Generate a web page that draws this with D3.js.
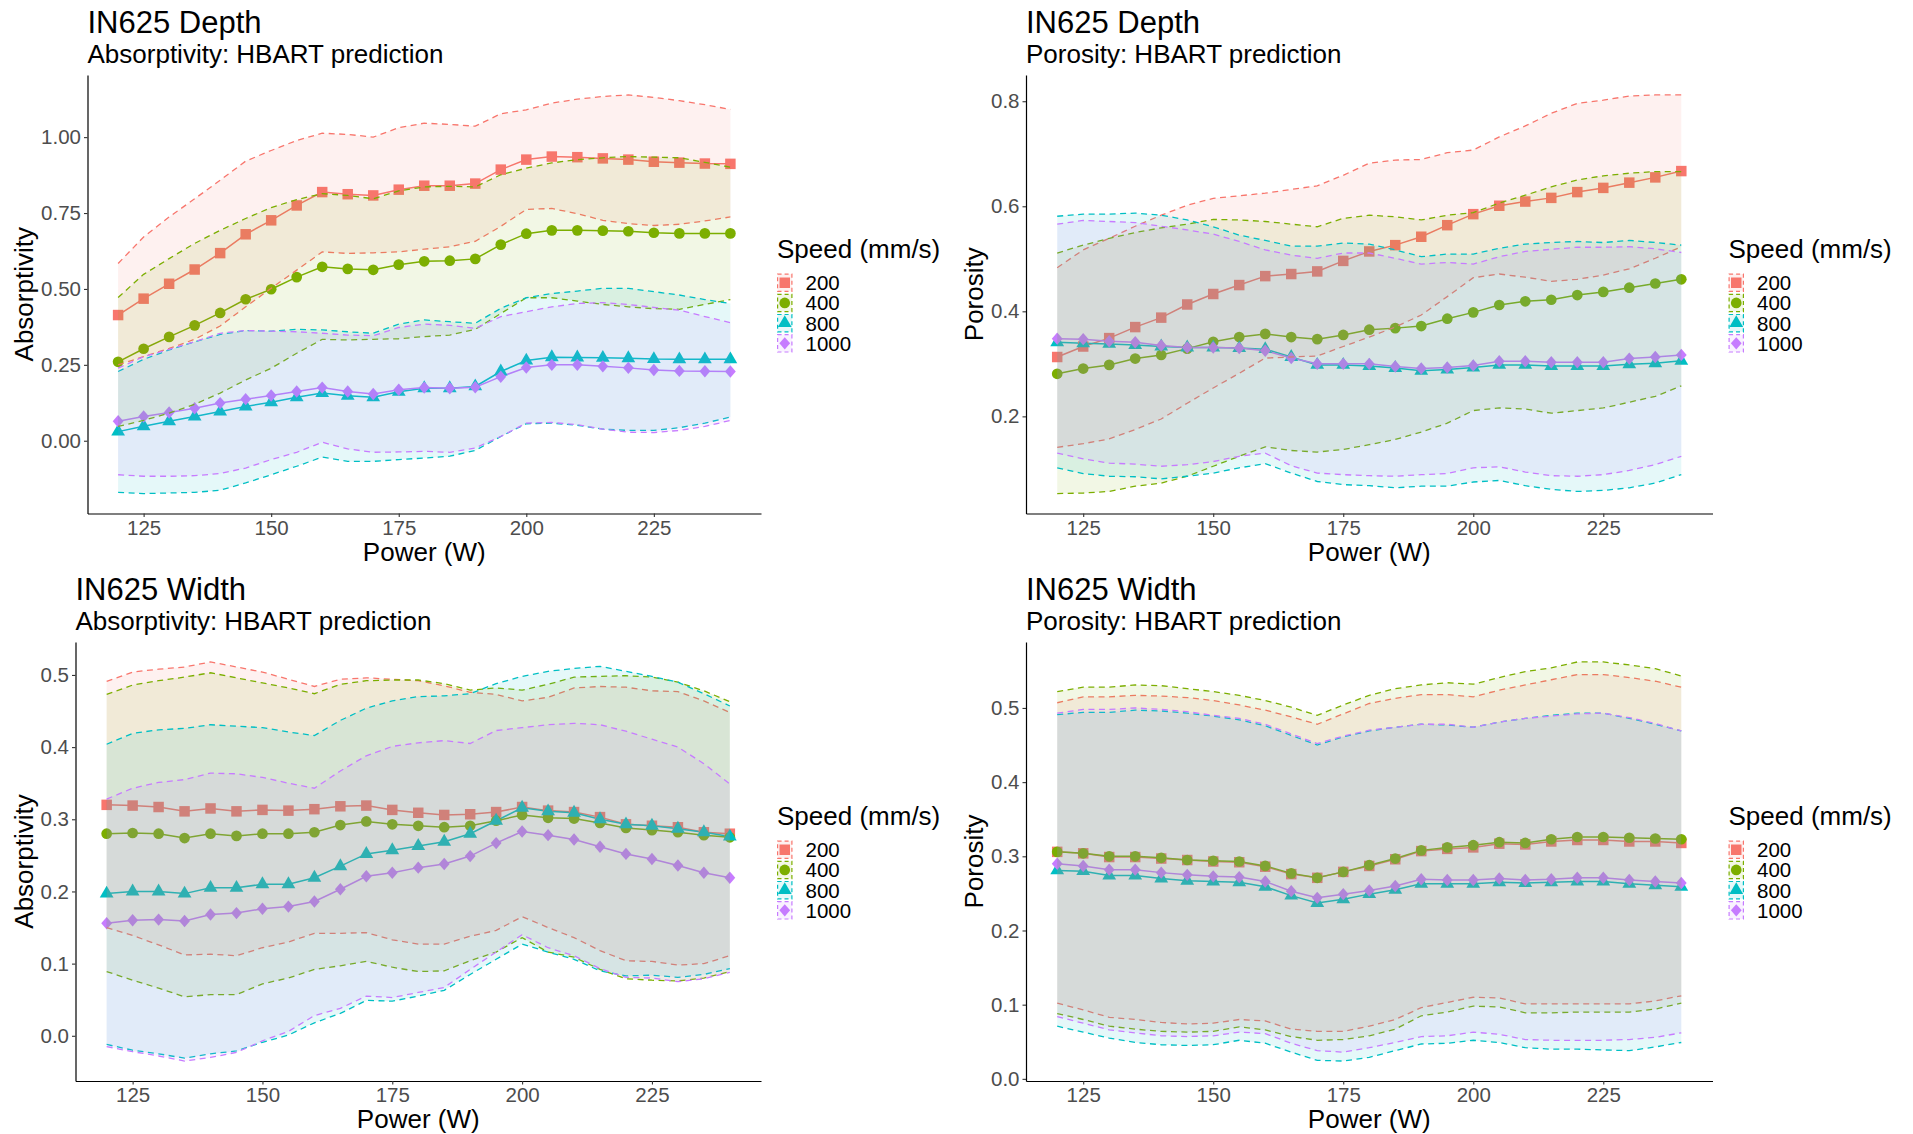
<!DOCTYPE html>
<html>
<head>
<meta charset="utf-8">
<script src="https://cdn.jsdelivr.net/npm/d3@7"></script>
<style>
  html, body { margin: 0; padding: 0; background: #ffffff; }
  svg { display: block; font-family: "Liberation Sans", Arial, Helvetica, sans-serif; }
</style>
</head>
<body>
<svg id="chart" width="1913" height="1134"></svg>
<script>
// ---- Data -------------------------------------------------------------
const power = [120,125,130,135,140,145,150,155,160,165,170,175,180,185,190,195,200,205,210,215,220,225,230,235,240];
const speeds = ["200", "400", "800", "1000"];
const xTicks = [125, 150, 175, 200, 225];

// Depth model, absorptivity (rows: speed 200, 400, 800, 1000)
const depthAbsMean = [
  [0.414,0.468,0.517,0.564,0.618,0.680,0.726,0.775,0.819,0.812,0.808,0.827,0.840,0.840,0.847,0.893,0.926,0.936,0.934,0.930,0.926,0.919,0.916,0.913,0.912],
  [0.260,0.303,0.342,0.380,0.421,0.466,0.499,0.539,0.573,0.566,0.563,0.580,0.591,0.593,0.599,0.646,0.682,0.693,0.693,0.692,0.690,0.685,0.683,0.683,0.683],
  [0.030,0.048,0.064,0.080,0.096,0.113,0.127,0.143,0.157,0.148,0.143,0.161,0.173,0.173,0.179,0.228,0.264,0.275,0.274,0.273,0.272,0.269,0.268,0.268,0.268],
  [0.064,0.080,0.093,0.107,0.124,0.137,0.149,0.162,0.175,0.162,0.154,0.168,0.175,0.173,0.176,0.211,0.241,0.250,0.250,0.245,0.240,0.233,0.230,0.229,0.228]
];
const depthAbsUpper = [
  [0.584,0.671,0.737,0.797,0.858,0.921,0.956,0.989,1.013,1.009,1.000,1.031,1.046,1.042,1.036,1.077,1.090,1.112,1.125,1.134,1.139,1.131,1.120,1.107,1.091],
  [0.472,0.548,0.600,0.650,0.693,0.732,0.768,0.794,0.814,0.808,0.797,0.823,0.836,0.838,0.836,0.876,0.898,0.915,0.926,0.932,0.936,0.934,0.932,0.917,0.901],
  [0.228,0.268,0.299,0.326,0.350,0.363,0.361,0.367,0.365,0.359,0.354,0.384,0.398,0.392,0.387,0.436,0.471,0.485,0.493,0.502,0.502,0.491,0.480,0.465,0.452],
  [0.239,0.277,0.301,0.326,0.354,0.363,0.361,0.359,0.354,0.348,0.346,0.373,0.384,0.380,0.370,0.409,0.425,0.441,0.452,0.455,0.449,0.439,0.430,0.409,0.389]
];
const depthAbsLower = [
  [0.250,0.277,0.304,0.334,0.378,0.441,0.502,0.562,0.622,0.617,0.619,0.622,0.631,0.639,0.657,0.706,0.762,0.765,0.748,0.726,0.715,0.709,0.713,0.724,0.737],
  [0.047,0.067,0.091,0.120,0.157,0.200,0.239,0.288,0.334,0.332,0.334,0.336,0.343,0.348,0.367,0.419,0.471,0.471,0.460,0.449,0.441,0.435,0.433,0.449,0.465],
  [-0.170,-0.174,-0.172,-0.170,-0.163,-0.139,-0.112,-0.084,-0.054,-0.068,-0.068,-0.062,-0.057,-0.051,-0.032,0.014,0.056,0.058,0.051,0.038,0.034,0.034,0.043,0.058,0.078],
  [-0.112,-0.117,-0.117,-0.115,-0.108,-0.090,-0.062,-0.038,-0.005,-0.027,-0.038,-0.037,-0.035,-0.038,-0.024,0.014,0.058,0.060,0.053,0.038,0.028,0.027,0.034,0.047,0.067]
];

// Depth model, porosity
const depthPorMean = [
  [0.313,0.333,0.349,0.370,0.388,0.413,0.433,0.450,0.467,0.471,0.476,0.496,0.514,0.526,0.542,0.564,0.585,0.601,0.609,0.616,0.627,0.635,0.645,0.655,0.667],
  [0.281,0.291,0.298,0.310,0.317,0.329,0.342,0.351,0.357,0.351,0.347,0.355,0.365,0.368,0.372,0.386,0.398,0.412,0.419,0.422,0.431,0.437,0.445,0.453,0.461],
  [0.341,0.339,0.338,0.336,0.333,0.331,0.331,0.330,0.328,0.313,0.298,0.298,0.296,0.292,0.287,0.289,0.293,0.298,0.298,0.296,0.296,0.296,0.299,0.301,0.306],
  [0.348,0.347,0.343,0.341,0.335,0.331,0.331,0.330,0.325,0.311,0.300,0.300,0.300,0.295,0.291,0.293,0.297,0.305,0.305,0.303,0.303,0.303,0.310,0.313,0.317]
];
const depthPorUpper = [
  [0.483,0.517,0.539,0.562,0.583,0.602,0.615,0.620,0.625,0.632,0.639,0.659,0.682,0.688,0.689,0.702,0.707,0.732,0.753,0.777,0.796,0.802,0.810,0.812,0.812],
  [0.511,0.526,0.539,0.550,0.559,0.566,0.575,0.574,0.571,0.566,0.561,0.577,0.583,0.580,0.574,0.583,0.588,0.606,0.621,0.637,0.650,0.658,0.663,0.666,0.666],
  [0.581,0.585,0.585,0.587,0.583,0.574,0.561,0.545,0.535,0.524,0.524,0.530,0.528,0.517,0.504,0.509,0.509,0.520,0.528,0.531,0.533,0.531,0.535,0.531,0.526],
  [0.566,0.573,0.571,0.569,0.562,0.555,0.547,0.533,0.517,0.507,0.501,0.511,0.511,0.501,0.490,0.493,0.490,0.504,0.514,0.518,0.522,0.522,0.523,0.519,0.512]
];
const depthPorLower = [
  [0.141,0.148,0.157,0.175,0.195,0.225,0.254,0.282,0.311,0.313,0.315,0.333,0.351,0.370,0.393,0.428,0.464,0.471,0.465,0.457,0.461,0.469,0.481,0.501,0.523],
  [0.053,0.054,0.057,0.067,0.073,0.086,0.105,0.124,0.142,0.135,0.132,0.137,0.146,0.156,0.170,0.187,0.211,0.216,0.214,0.206,0.211,0.216,0.227,0.238,0.258],
  [0.102,0.091,0.086,0.085,0.081,0.086,0.092,0.102,0.110,0.092,0.076,0.070,0.068,0.064,0.067,0.067,0.075,0.078,0.068,0.061,0.057,0.059,0.064,0.073,0.089],
  [0.130,0.119,0.111,0.109,0.105,0.108,0.114,0.124,0.130,0.106,0.092,0.089,0.087,0.086,0.089,0.091,0.102,0.104,0.094,0.087,0.086,0.089,0.097,0.108,0.124]
];

// Width model, absorptivity
const widthAbsMean = [
  [0.320,0.319,0.317,0.311,0.315,0.311,0.313,0.312,0.314,0.318,0.319,0.313,0.309,0.306,0.307,0.310,0.317,0.312,0.310,0.303,0.293,0.291,0.289,0.282,0.280],
  [0.280,0.281,0.280,0.274,0.280,0.277,0.280,0.280,0.282,0.292,0.297,0.293,0.291,0.289,0.291,0.298,0.306,0.302,0.301,0.295,0.288,0.285,0.282,0.278,0.275],
  [0.197,0.200,0.200,0.197,0.205,0.205,0.210,0.210,0.219,0.235,0.252,0.257,0.263,0.269,0.280,0.298,0.316,0.311,0.309,0.300,0.293,0.291,0.287,0.282,0.276],
  [0.156,0.160,0.161,0.159,0.168,0.170,0.176,0.179,0.186,0.203,0.221,0.226,0.233,0.238,0.249,0.267,0.283,0.278,0.272,0.262,0.252,0.245,0.236,0.226,0.219]
];
const widthAbsUpper = [
  [0.491,0.504,0.508,0.511,0.518,0.511,0.504,0.494,0.484,0.494,0.496,0.494,0.492,0.485,0.476,0.473,0.464,0.469,0.482,0.484,0.483,0.478,0.477,0.464,0.448],
  [0.473,0.486,0.492,0.497,0.503,0.496,0.489,0.482,0.474,0.487,0.492,0.493,0.493,0.488,0.479,0.482,0.479,0.487,0.497,0.498,0.499,0.497,0.490,0.478,0.463],
  [0.404,0.419,0.424,0.426,0.431,0.429,0.427,0.421,0.416,0.437,0.454,0.464,0.470,0.471,0.474,0.488,0.498,0.505,0.509,0.512,0.505,0.498,0.490,0.474,0.457],
  [0.328,0.343,0.351,0.355,0.364,0.363,0.358,0.350,0.343,0.367,0.388,0.401,0.406,0.409,0.405,0.423,0.427,0.431,0.433,0.431,0.422,0.411,0.400,0.377,0.349]
];
const widthAbsLower = [
  [0.150,0.139,0.126,0.112,0.113,0.111,0.122,0.130,0.142,0.142,0.143,0.133,0.127,0.127,0.138,0.146,0.165,0.150,0.136,0.118,0.104,0.103,0.098,0.100,0.111],
  [0.089,0.077,0.066,0.054,0.057,0.057,0.072,0.080,0.092,0.097,0.103,0.095,0.089,0.090,0.104,0.116,0.136,0.116,0.109,0.092,0.079,0.077,0.076,0.080,0.089],
  [-0.012,-0.020,-0.025,-0.031,-0.025,-0.021,-0.009,0.001,0.018,0.031,0.049,0.048,0.055,0.063,0.085,0.106,0.127,0.116,0.106,0.090,0.083,0.084,0.081,0.085,0.093],
  [-0.015,-0.022,-0.028,-0.035,-0.030,-0.023,-0.007,0.006,0.028,0.038,0.055,0.053,0.060,0.067,0.092,0.116,0.140,0.122,0.111,0.093,0.081,0.080,0.075,0.079,0.088]
];

// Width model, porosity
const widthPorMean = [
  [0.306,0.304,0.299,0.299,0.297,0.295,0.293,0.292,0.286,0.276,0.271,0.279,0.287,0.296,0.307,0.310,0.312,0.317,0.316,0.320,0.322,0.322,0.320,0.320,0.318],
  [0.306,0.304,0.300,0.300,0.298,0.295,0.294,0.293,0.287,0.277,0.271,0.279,0.288,0.297,0.308,0.312,0.315,0.319,0.318,0.323,0.326,0.326,0.325,0.324,0.323],
  [0.281,0.280,0.274,0.274,0.270,0.267,0.266,0.265,0.259,0.247,0.237,0.242,0.249,0.255,0.263,0.263,0.263,0.265,0.264,0.265,0.266,0.266,0.263,0.261,0.259],
  [0.290,0.287,0.282,0.282,0.278,0.275,0.273,0.272,0.266,0.253,0.244,0.249,0.254,0.260,0.269,0.268,0.268,0.270,0.268,0.269,0.271,0.271,0.268,0.266,0.264]
];
const widthPorUpper = [
  [0.507,0.515,0.515,0.517,0.516,0.514,0.510,0.504,0.497,0.488,0.478,0.492,0.506,0.513,0.518,0.518,0.515,0.524,0.531,0.538,0.545,0.545,0.541,0.536,0.528],
  [0.522,0.528,0.528,0.531,0.530,0.526,0.522,0.517,0.510,0.501,0.490,0.504,0.517,0.526,0.531,0.534,0.532,0.541,0.549,0.554,0.562,0.562,0.558,0.553,0.543],
  [0.491,0.494,0.494,0.497,0.496,0.493,0.489,0.484,0.476,0.463,0.450,0.461,0.469,0.474,0.478,0.477,0.474,0.481,0.486,0.490,0.493,0.493,0.486,0.478,0.469],
  [0.493,0.498,0.498,0.500,0.498,0.495,0.490,0.486,0.478,0.465,0.452,0.462,0.470,0.474,0.478,0.478,0.474,0.481,0.486,0.489,0.492,0.493,0.487,0.479,0.469]
];
const widthPorLower = [
  [0.102,0.093,0.083,0.080,0.076,0.074,0.075,0.080,0.078,0.067,0.064,0.064,0.071,0.080,0.096,0.103,0.110,0.109,0.101,0.101,0.101,0.101,0.101,0.105,0.112],
  [0.088,0.080,0.071,0.067,0.064,0.063,0.064,0.070,0.066,0.057,0.052,0.053,0.058,0.067,0.085,0.090,0.098,0.097,0.089,0.089,0.090,0.090,0.090,0.094,0.102],
  [0.071,0.063,0.055,0.049,0.046,0.045,0.046,0.052,0.048,0.036,0.025,0.024,0.029,0.038,0.047,0.048,0.052,0.049,0.042,0.040,0.040,0.039,0.038,0.043,0.049],
  [0.084,0.075,0.066,0.062,0.058,0.057,0.058,0.063,0.061,0.048,0.038,0.036,0.042,0.049,0.057,0.058,0.063,0.060,0.053,0.052,0.052,0.052,0.053,0.056,0.062]
];

const depthAbsTicks = [0, 0.25, 0.5, 0.75, 1.0];
const depthPorTicks = [0.2, 0.4, 0.6, 0.8];
const widthAbsTicks = [0.0, 0.1, 0.2, 0.3, 0.4, 0.5];
const widthPorTicks = [0.0, 0.1, 0.2, 0.3, 0.4, 0.5];

// ---- Styling ----------------------------------------------------------
const palette = ["#F8766D", "#7CAE00", "#00BFC4", "#C77CFF"];
const ribbonAlpha = 0.1;
const dash = "6,4.5";

// Marker shapes: filled square, circle, triangle, diamond
function markerPath(k) {
  if (k === 0) return d3.symbol(d3.symbolSquare, 110)();
  if (k === 1) return d3.symbol(d3.symbolCircle, 90)();
  if (k === 2) return d3.symbol(d3.symbolTriangle, 82)();
  return "M0,-6.2L5.4,0L0,6.2L-5.4,0Z";
}

const panels = [
  { title: "IN625 Depth", subtitle: "Absorptivity: HBART prediction", ylab: "Absorptivity",
    mean: depthAbsMean, upper: depthAbsUpper, lower: depthAbsLower, ticks: depthAbsTicks, fmt: ".2f",
    left: 87.5, right: 761, top: 75, bottom: 513.5, cellY: 0 },
  { title: "IN625 Depth", subtitle: "Porosity: HBART prediction", ylab: "Porosity",
    mean: depthPorMean, upper: depthPorUpper, lower: depthPorLower, ticks: depthPorTicks, fmt: ".1f",
    left: 1026, right: 1712.5, top: 75, bottom: 513.5, cellY: 0 },
  { title: "IN625 Width", subtitle: "Absorptivity: HBART prediction", ylab: "Absorptivity",
    mean: widthAbsMean, upper: widthAbsUpper, lower: widthAbsLower, ticks: widthAbsTicks, fmt: ".1f",
    left: 75.5, right: 761, top: 642, bottom: 1081, cellY: 567 },
  { title: "IN625 Width", subtitle: "Porosity: HBART prediction", ylab: "Porosity",
    mean: widthPorMean, upper: widthPorUpper, lower: widthPorLower, ticks: widthPorTicks, fmt: ".1f",
    left: 1026, right: 1712.5, top: 642, bottom: 1081, cellY: 567 }
];

const svg = d3.select("#chart");

function drawPanel(p) {
  const g = svg.append("g");

  // ggplot-style 5% expansion on both scales
  const [x0, x1] = d3.extent(power);
  const xPad = (x1 - x0) * 0.05;
  const x = d3.scaleLinear().domain([x0 - xPad, x1 + xPad]).range([p.left, p.right]);

  const allY = p.mean.flat().concat(p.upper.flat(), p.lower.flat());
  const [y0, y1] = d3.extent(allY);
  const yPad = (y1 - y0) * 0.05;
  const y = d3.scaleLinear().domain([y0 - yPad, y1 + yPad]).range([p.bottom, p.top]);

  const idx = d3.range(power.length);

  // mean lines
  const meanLine = s => d3.line().x(i => x(power[i])).y(i => y(p.mean[s][i]));
  speeds.forEach((sp, s) => {
    g.append("path")
      .attr("d", meanLine(s)(idx))
      .attr("fill", "none")
      .attr("stroke", palette[s])
      .attr("stroke-width", 1.5);
  });

  // mean points
  speeds.forEach((sp, s) => {
    g.append("g").selectAll("path")
      .data(idx)
      .join("path")
      .attr("d", markerPath(s))
      .attr("transform", i => `translate(${x(power[i])},${y(p.mean[s][i])})`)
      .attr("fill", palette[s]);
  });

  // prediction bands drawn over lines and points
  speeds.forEach((sp, s) => {
    const area = d3.area()
      .x(i => x(power[i]))
      .y0(i => y(p.lower[s][i]))
      .y1(i => y(p.upper[s][i]));
    g.append("path")
      .attr("d", area(idx))
      .attr("fill", palette[s])
      .attr("fill-opacity", ribbonAlpha);
    [p.upper[s], p.lower[s]].forEach(arr => {
      g.append("path")
        .attr("d", d3.line().x(i => x(power[i])).y(i => y(arr[i]))(idx))
        .attr("fill", "none")
        .attr("stroke", palette[s])
        .attr("stroke-width", 1.3)
        .attr("stroke-dasharray", dash);
    });
  });

  // axes
  const xAxis = g.append("g")
    .attr("transform", `translate(0,${p.bottom})`)
    .call(d3.axisBottom(x).tickValues(xTicks).tickSize(3.5).tickPadding(3).tickSizeOuter(0));
  const yAxis = g.append("g")
    .attr("transform", `translate(${p.left},0)`)
    .call(d3.axisLeft(y).tickValues(p.ticks).tickFormat(d3.format(p.fmt)).tickSize(3.5).tickPadding(3).tickSizeOuter(0));

  [xAxis, yAxis].forEach(ax => {
    ax.select(".domain").attr("stroke", "#000").attr("stroke-width", 1.2);
    ax.selectAll(".tick line").attr("stroke", "#333").attr("stroke-width", 1.1);
    ax.selectAll(".tick text")
      .attr("fill", "#4D4D4D")
      .style("font-size", "20.5px")
      .style("font-family", "'Liberation Sans', Arial, sans-serif");
  });

  // axis titles
  let labelLeft = p.left;
  yAxis.selectAll(".tick text").each(function () {
    const b = this.getBBox();
    const tx = this.parentNode.transform.baseVal.consolidate();
    const off = tx ? tx.matrix.e : 0;
    labelLeft = Math.min(labelLeft, p.left + off + b.x);
  });

  g.append("text")
    .attr("transform", `translate(${labelLeft - 8},${(p.top + p.bottom) / 2}) rotate(-90)`)
    .attr("text-anchor", "middle")
    .attr("fill", "#000")
    .style("font-size", "26px")
    .text(p.ylab);

  g.append("text")
    .attr("x", (p.left + p.right) / 2)
    .attr("y", p.bottom + 47)
    .attr("text-anchor", "middle")
    .attr("fill", "#000")
    .style("font-size", "26px")
    .text("Power (W)");

  // titles
  g.append("text")
    .attr("x", p.left)
    .attr("y", p.cellY + 33)
    .attr("fill", "#000")
    .style("font-size", "31px")
    .text(p.title);
  g.append("text")
    .attr("x", p.left)
    .attr("y", p.cellY + 63)
    .attr("fill", "#000")
    .style("font-size", "26px")
    .text(p.subtitle);

  // legend
  const lg = g.append("g").attr("transform", `translate(${p.right + 16},${p.cellY})`);
  lg.append("text")
    .attr("x", 0)
    .attr("y", 258)
    .attr("fill", "#000")
    .style("font-size", "26px")
    .text("Speed (mm/s)");
  const keyW = 15.5, keyH = 18.5, keyStep = 20.2, keyTop = 273.5;
  speeds.forEach((sp, s) => {
    const ky = keyTop + s * keyStep;
    const kg = lg.append("g").attr("transform", `translate(0,${ky})`);
    kg.append("path")
      .attr("d", markerPath(s))
      .attr("transform", `translate(${keyW / 2},${keyH / 2})`)
      .attr("fill", palette[s]);
    kg.append("rect")
      .attr("x", 0.6).attr("y", 0.6)
      .attr("width", keyW - 1.2).attr("height", keyH - 1.2)
      .attr("fill", palette[s])
      .attr("fill-opacity", ribbonAlpha)
      .attr("stroke", palette[s])
      .attr("stroke-width", 1.2)
      .attr("stroke-dasharray", "4,3");
    kg.append("text")
      .attr("x", keyW + 13)
      .attr("y", keyH / 2)
      .attr("dy", "0.36em")
      .attr("fill", "#000")
      .style("font-size", "20.5px")
      .text(sp);
  });
}

panels.forEach(drawPanel);
</script>
</body>
</html>
